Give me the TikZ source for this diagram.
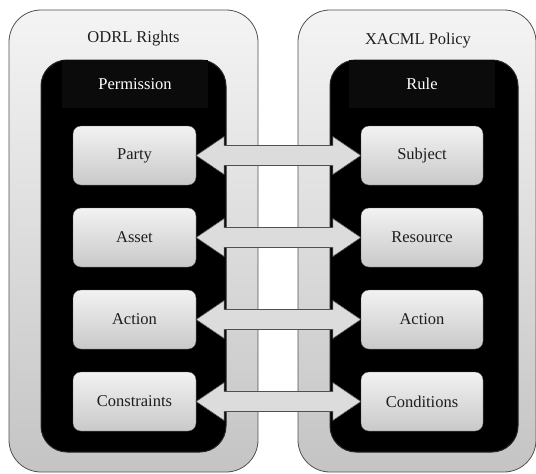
\documentclass[tikz,border=0pt]{standalone}
\usepackage{fontspec}
\setmainfont{Liberation Serif}
\usetikzlibrary{calc}
\definecolor{edgegray}{HTML}{505050}
\definecolor{outertop}{HTML}{F4F4F4}
\definecolor{outerbot}{HTML}{C4C4C4}
\definecolor{itemtop}{HTML}{F2F2F2}
\definecolor{itembot}{HTML}{C9C9C9}
\definecolor{arrowfillc}{HTML}{DCDCDC}
\definecolor{headdark}{HTML}{0B0B0B}
\definecolor{textdark}{HTML}{1E1E1E}
\tikzset{
  outerbox/.style={draw=edgegray, line width=0.8pt, rounded corners=32pt,
    shading=axis, top color=outertop, bottom color=outerbot,
    minimum height=462pt, inner sep=0pt},
  blackbox/.style={fill=black, draw=black!85, line width=1pt, rounded corners=26pt,
    minimum height=392pt, inner sep=0pt},
  headbox/.style={fill=headdark, minimum width=146pt, minimum height=48pt, inner sep=0pt,
    text=white, font=\fontsize{16.5}{19}\selectfont},
  titletext/.style={text=textdark, font=\fontsize{16.5}{19}\selectfont, inner sep=0pt},
  itembox/.style={rounded corners=8pt, shading=axis, top color=itemtop, bottom color=itembot,
    draw=black!60, line width=0.3pt,
    minimum height=59pt, inner sep=0pt, text=textdark, font=\fontsize{16.5}{19}\selectfont},
  biarrow/.style={fill=arrowfillc, draw=edgegray, line width=0.6pt, line join=miter}
}
\begin{document}
\begin{tikzpicture}[x=1pt,y=-1pt]
\useasboundingbox (0,0) rectangle (536,474);
% outer containers
\node[outerbox, minimum width=249pt] (odrl) at (133.5,241) {};
\node[outerbox, minimum width=238pt] (xacml) at (417,241) {};
\node[titletext] (odrlt) at (133.5,39) {ODRL Rights};
\node[titletext] (xacmlt) at (418,41) {XACML Policy};
% inner black containers
\node[blackbox, minimum width=185pt] (perm) at (133.5,256) {};
\node[blackbox, minimum width=188pt] (rule) at (424,256) {};
\node[headbox] (permt) at (135,84) {Permission};
\node[headbox] (rulet) at (422,84) {Rule};
% items
\foreach \nm/\txt/\cy in {party/Party/155.5, asset/Asset/237.5, actl/Action/319.5, cons/Constraints/401.5}
  \node[itembox, minimum width=123pt] (\nm) at (134.5,\cy) {\txt};
\foreach \nm/\txt/\cy in {subj/Subject/155.5, res/Resource/237.5, actr/Action/319.5, cond/Conditions/401.5}
  \node[itembox, minimum width=122pt] (\nm) at (422,\cy) {\txt};
% double arrows
\foreach \a/\b in {party/subj, asset/res, actl/actr, cons/cond}
  \filldraw[biarrow] let \p1=(\a.east), \p2=(\b.west) in
    (\x1,\y1) -- (\x1+28pt,\y1+19pt) -- (\x1+28pt,\y1+10pt) -- (\x2-28pt,\y2+10pt)
    -- (\x2-28pt,\y2+19pt) -- (\x2,\y2) -- (\x2-28pt,\y2-19pt) -- (\x2-28pt,\y2-10pt)
    -- (\x1+28pt,\y1-10pt) -- (\x1+28pt,\y1-19pt) -- cycle;
\end{tikzpicture}
\end{document}
